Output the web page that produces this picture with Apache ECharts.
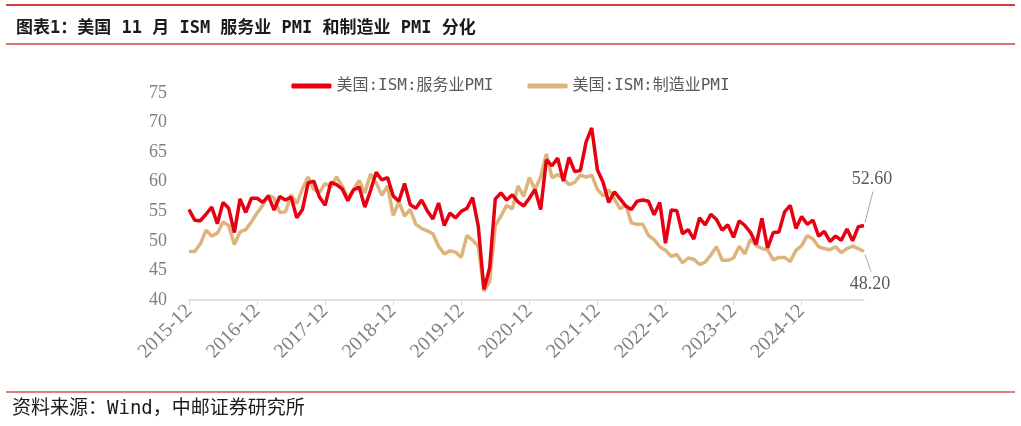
<!DOCTYPE html>
<html>
<head>
<meta charset="utf-8">
<style>
  html, body { margin: 0; padding: 0; background: #fff; }
  #chart { width: 1021px; height: 426px; }
</style>
<script src="https://cdn.jsdelivr.net/npm/echarts@6/dist/echarts.min.js"></script>
</head>
<body>
<div id="chart"></div>
<script>
// Categories: monthly 2015-12 .. 2025-11
var months = [];
(function(){
  var y = 2015, m = 12;
  for (var i = 0; i < 120; i++) {
    months.push(y + '-' + (m < 10 ? '0' + m : m));
    m++; if (m > 12) { m = 1; y++; }
  }
})();

var servicesName = '美国:ISM:服务业PMI';
var manufacturingName = '美国:ISM:制造业PMI';

var servicesPMI = [
  55.3,
  53.5, 53.4, 54.5, 55.7, 52.9, 56.5, 55.5, 51.4, 57.1, 54.8, 57.2, 57.2,
  56.5, 57.6, 55.2, 57.5, 56.9, 57.4, 53.9, 55.3, 59.8, 60.1, 57.4, 56.0,
  59.9, 59.5, 58.8, 56.8, 58.6, 59.1, 55.7, 58.5, 61.6, 60.3, 60.7, 57.6,
  56.7, 59.7, 56.1, 55.5, 56.9, 55.1, 53.7, 56.4, 52.6, 54.7, 53.9, 55.0,
  55.5, 57.3, 52.5, 41.8, 45.4, 57.1, 58.1, 56.9, 57.8, 56.6, 55.9, 57.2,
  58.7, 55.3, 63.7, 62.7, 64.0, 60.1, 64.1, 61.7, 61.9, 66.7, 69.1, 62.0,
  59.9, 56.5, 58.3, 57.1, 55.9, 55.3, 56.7, 56.9, 56.7, 54.4, 56.5, 49.6,
  55.2, 55.1, 51.2, 51.9, 50.3, 53.9, 52.7, 54.5, 53.6, 51.8, 52.7, 50.6,
  53.4, 52.6, 51.4, 49.4, 53.8, 48.8, 51.4, 51.5, 54.9, 56.0, 52.1, 54.1,
  52.8, 53.5, 50.8, 51.6, 49.9, 50.8, 50.1, 52.0, 50.0, 52.4, 52.6
];

var manufacturingPMI = [
  48.2,
  48.2, 49.5, 51.8, 50.8, 51.3, 53.2, 52.6, 49.4, 51.5, 51.9, 53.2, 54.7,
  56.0, 57.7, 57.2, 54.8, 54.9, 57.8, 56.3, 58.8, 60.8, 58.7, 58.2, 59.7,
  59.1, 60.8, 59.3, 57.3, 58.7, 60.2, 58.1, 61.3, 59.8, 57.7, 59.3, 54.3,
  56.6, 54.2, 55.3, 52.8, 52.1, 51.7, 51.2, 49.1, 47.8, 48.3, 48.1, 47.2,
  50.9, 50.1, 49.1, 41.5, 43.1, 52.6, 54.2, 56.0, 55.4, 59.3, 57.5, 60.7,
  58.7, 60.8, 64.7, 60.7, 61.2, 60.6, 59.5, 59.9, 61.1, 60.8, 61.1, 58.7,
  57.6, 58.6, 57.1, 55.4, 56.1, 53.0, 52.8, 52.8, 50.9, 50.2, 49.0, 48.4,
  47.4, 47.7, 46.3, 47.1, 46.9, 46.0, 46.4, 47.6, 49.0, 46.7, 46.7, 47.1,
  49.1, 47.8, 50.3, 49.2, 48.7, 48.5, 46.8, 47.2, 47.2, 46.5, 48.4, 49.2,
  50.9, 50.3, 49.0, 48.7, 48.5, 49.0, 48.0, 48.7, 49.1, 48.7, 48.2
];

var yMin = 40, yMax = 75, yStep = 5;
var titleText = '图表1：美国 11 月 ISM 服务业 PMI 和制造业 PMI 分化';
var sourceText = '资料来源：Wind，中邮证券研究所';

var lastIdx = servicesPMI.length - 1;

var chart = echarts.init(document.getElementById('chart'), null, { renderer: 'canvas' });

var mono = '"DejaVu Sans Mono", "Noto Sans CJK SC", monospace';
var serif = '"Liberation Serif", "DejaVu Serif", serif';

var redColor = '#e60012';
var tanColor = '#ddb47c';

chart.setOption({
  backgroundColor: '#ffffff',
  animation: false,
  title: {
    text: titleText,
    left: 11,
    top: 15,
    textStyle: { fontFamily: mono, fontSize: 17, fontWeight: 'bold', color: '#1a1a1a' }
  },
  legend: {
    top: 73,
    left: 'center',
    itemWidth: 40,
    itemHeight: 5,
    itemGap: 34,
    icon: 'roundRect',
    textStyle: { fontFamily: mono, fontSize: 16, color: '#595959', padding: [0, 0, 0, 0] },
    data: [servicesName, manufacturingName]
  },
  grid: { left: 189, right: 157, top: 93, bottom: 126, containLabel: false },
  xAxis: {
    type: 'category',
    data: months,
    boundaryGap: false,
    axisLine: { lineStyle: { color: '#d9d9d9', width: 1.5 } },
    axisTick: { show: true, interval: 11, length: 5, lineStyle: { color: '#d9d9d9' } },
    axisLabel: {
      interval: 11,
      rotate: 45,
      margin: 8,
      fontFamily: serif,
      fontSize: 20,
      color: '#808080'
    },
    splitLine: { show: false }
  },
  yAxis: {
    type: 'value',
    min: yMin,
    max: yMax,
    interval: yStep,
    axisLine: { show: false },
    axisTick: { show: false },
    splitLine: { show: false },
    axisLabel: { fontFamily: serif, fontSize: 18, color: '#7f7f7f', margin: 22 }
  },
  series: [
    {
      name: servicesName,
      type: 'line',
      data: servicesPMI,
      symbol: 'none',
      lineStyle: { color: redColor, width: 3.5 },
      itemStyle: { color: redColor },
      z: 3
    },
    {
      name: manufacturingName,
      type: 'line',
      data: manufacturingPMI,
      symbol: 'none',
      lineStyle: { color: tanColor, width: 3.5 },
      itemStyle: { color: tanColor },
      z: 2
    }
  ],
  graphic: [
    { id: 'topLine', type: 'line', shape: { x1: 6, y1: 5, x2: 1015, y2: 5 }, style: { stroke: '#c00000', lineWidth: 1.5 } },
    { id: 'titleLine', type: 'line', shape: { x1: 6, y1: 44, x2: 1015, y2: 44 }, style: { stroke: '#e07070', lineWidth: 2 } },
    { id: 'bottomLine', type: 'line', shape: { x1: 6, y1: 392, x2: 1015, y2: 392 }, style: { stroke: '#c00000', lineWidth: 1.2 } },
    { id: 'source', type: 'text', left: 12, top: 400, style: { text: sourceText, font: '19px ' + mono, fill: '#1a1a1a' } }
  ]
});

// End-value annotations anchored to the last data points through the axes
var pS = chart.convertToPixel({ gridIndex: 0 }, [lastIdx, servicesPMI[lastIdx]]);
var pM = chart.convertToPixel({ gridIndex: 0 }, [lastIdx, manufacturingPMI[lastIdx]]);
chart.setOption({
  graphic: [
    { id: 'sLead', type: 'line', z: 10, shape: { x1: pS[0] + 1, y1: pS[1] - 3, x2: pS[0] + 9, y2: pS[1] - 34 }, style: { stroke: '#a6a6a6', lineWidth: 1 } },
    { id: 'sText', type: 'text', z: 10, x: pS[0] + 8, y: pS[1] - 46, style: { text: servicesPMI[lastIdx].toFixed(2), font: '18px ' + serif, fill: '#595959', textAlign: 'center', textVerticalAlign: 'middle' } },
    { id: 'mLead', type: 'line', z: 10, shape: { x1: pM[0] + 1, y1: pM[1] + 3, x2: pM[0] + 7, y2: pM[1] + 20 }, style: { stroke: '#a6a6a6', lineWidth: 1 } },
    { id: 'mText', type: 'text', z: 10, x: pM[0] + 6, y: pM[1] + 33, style: { text: manufacturingPMI[lastIdx].toFixed(2), font: '18px ' + serif, fill: '#595959', textAlign: 'center', textVerticalAlign: 'middle' } }
  ]
});
</script>
</body>
</html>
